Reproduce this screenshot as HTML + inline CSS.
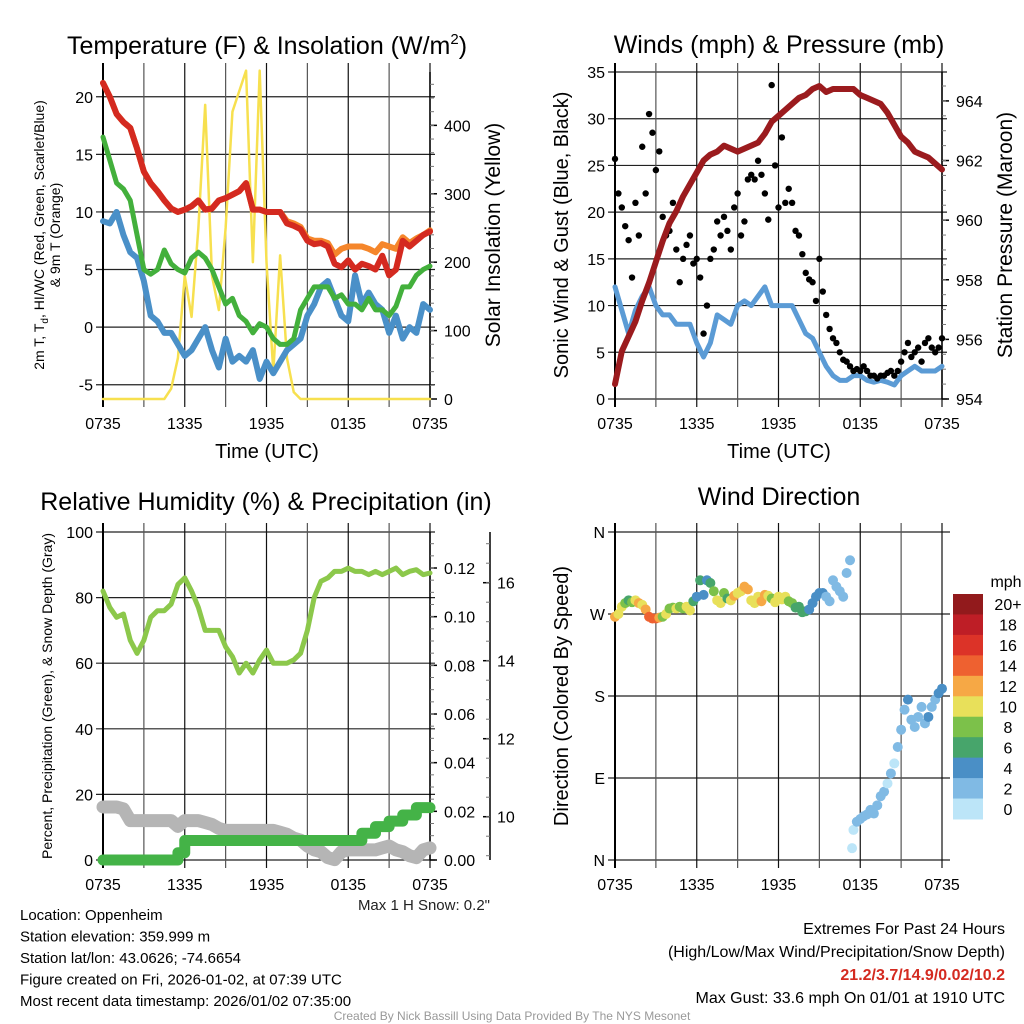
<!DOCTYPE html>
<html><head><meta charset="utf-8"><style>
body{margin:0;background:#fff;width:1024px;height:1024px;overflow:hidden}
svg{display:block;font-family:"Liberation Sans",Arial,sans-serif}
</style></head><body>
<svg id="s" width="1024" height="1024" viewBox="0 0 1024 1024" xmlns="http://www.w3.org/2000/svg"></svg>
<script>
// ---------- DATA (half-hour series, t = 0..24 h from 0735 UTC) ----------
const tempRed=[21.2,20,18.5,17.8,17.3,15.5,13.5,12.5,11.8,11,10.3,10,10.2,10.5,11,10.2,10.3,11,11.2,11.5,11.8,12.5,10.2,10.2,10,10,10,9,8.8,8.5,7.5,7.2,7.3,7,5.5,5.2,5.8,5,5.5,5.3,5,6.2,4.5,5,7.5,7,7.5,8,8.3];
const tempOrange=[21.2,20,18.5,17.8,17.3,15.5,13.5,12.5,11.8,11,10.3,10,10.2,10.5,11,10.2,10.3,11,11.2,11.5,11.8,12.5,10.2,10.2,10,10,10,9.2,9,8.7,7.7,7.5,7.5,7.3,6.3,6.8,7,7,7,6.8,6.5,7.2,7,6.8,7.8,7.3,7.7,8,8.4];
const hiwcGreen=[16.5,14.5,12.5,12,11,8,5,4.6,5,6.7,5.5,5,4.7,6,6.5,6,5,3.5,2,2.5,1,0.5,-0.5,0.3,0,-1,-1.5,-1.5,-1,1.5,2.5,3.5,3.5,3.5,2.5,2.8,2,2,1.5,2.5,1.5,1.5,1,1.8,3.5,3.5,4.5,5,5.3];
const dewBlue=[9.2,9,10,8,6.5,6,4,1,0.5,-0.5,-0.5,-1.5,-2.5,-2,-1,0,-2,-3.5,-1,-3,-2.5,-3,-2,-4.5,-3,-4,-3,-2,-1.5,-1,1,2,3.5,4,2.5,1,0.5,4.5,2,3,2,1.5,-0.5,1,-1,0,-0.5,2,1.5];
const solar=[0,0,0,0,0,0,0,0,0,0,15,60,180,120,250,430,180,130,250,420,450,480,200,480,200,40,210,60,10,0,0,0,0,0,0,0,0,0,0,0,0,0,0,0,0,0,0,0,0];
const windBlue=[12,9.5,7,9.5,11,12,10,9,9,8,8,8,6,4.5,6,9,8.5,8,10,10.5,10,11,12,10,10,10,10,8.5,7,6.5,5,3.5,2.5,2,2,2.5,2.5,2,1.8,2,1.8,1.5,2.5,3,3.5,3,3,3,3.5];
const pressure=[954.5,955.6,956.1,956.6,957.3,957.9,958.6,959.3,959.9,960.3,960.8,961.2,961.6,962.0,962.2,962.3,962.5,962.4,962.3,962.4,962.5,962.6,962.9,963.3,963.5,963.7,963.9,964.1,964.2,964.4,964.5,964.3,964.4,964.4,964.4,964.4,964.2,964.1,964.0,963.9,963.6,963.2,962.8,962.6,962.3,962.2,962.1,961.9,961.7];
// gusts every quarter hour
const gust=[25.7,22,20.5,18.5,17,13,21,17.5,27,22,30.5,28.5,24.5,26.5,19.5,17.5,18,21,16,12.5,15,16.5,17.5,14.5,15,13,7,10,15,16,19,17.5,19.5,18,16,20.5,22,17.5,19,23.5,24,23.5,25.5,24,22,19.2,33.6,25,20.5,28,21,22.5,21,18,17.5,15.5,13.5,12.8,12.5,10.5,15,11.5,9,7.5,6.5,6,5,4.2,4,3.5,3,3.2,3,3.5,3,2.5,2.5,2.2,2.5,2.5,2.8,3,2.5,3,4,5,6,4.5,5,5.5,4,6,6.5,5.5,5,5.5,6.5];
const rh=[82,77,74,75,67,63,67,74,76,76,78,84,86,82,77,70,70,70,65,62,57,60,57,61,64,60,60,60,61,63,70,80,85,86,88,88,89,88,88,87,88,87,88,89,87,88,88.5,87,87.5];
const precip=[0,0,0,0,0,0,0,0,0,0,0,0.003,0.008,0.008,0.008,0.008,0.008,0.008,0.008,0.008,0.008,0.008,0.008,0.008,0.008,0.008,0.008,0.008,0.008,0.008,0.008,0.008,0.008,0.008,0.008,0.008,0.008,0.008,0.011,0.011,0.0137,0.0137,0.016,0.016,0.0185,0.0185,0.0215,0.0215,0.0215];
const snow=[10.25,10.25,10.25,10.2,9.9,9.9,9.9,9.9,9.9,9.9,9.9,9.75,9.9,9.9,9.9,9.85,9.8,9.7,9.65,9.65,9.65,9.65,9.65,9.65,9.65,9.65,9.6,9.55,9.45,9.4,9.25,9.15,9.1,8.95,8.9,9.1,9.15,9.15,9.15,9.15,9.15,9.2,9.25,9.15,9.1,9.0,8.95,9.15,9.2];
const dirTime=[0,0.25,0.5,0.75,1,1.25,1.5,1.75,2,2.25,2.5,2.75,3,3.25,3.5,3.75,4,4.25,4.5,4.75,5,5.25,5.5,5.75,6,6.25,6.5,6.75,7,7.25,7.5,7.75,8,8.25,8.5,8.75,9,9.25,9.5,9.75,10,10.25,10.5,10.75,11,11.25,11.5,11.75,12,12.25,12.5,12.75,13,13.25,13.5,13.75,14,14.25,14.5,14.75,15,15.25,15.5,15.75,16,16.25,16.5,16.75,17,17.25,17.4,17.5,17.75,18,18.25,18.5,18.75,19,19.25,19.5,19.75,20,20.25,20.5,20.75,21,21.25,21.5,21.75,22,22.25,22.5,22.75,23,23.25,23.5,23.75,24];
const dirDeg=[267,270,278,282,285,283,285,282,280,275,267,265,265,266,267,270,276,277,276,278,276,278,274,284,289,307,291,307,304,295,285,282,293,287,285,290,293,295,300,297,285,282,289,284,291,290,287,283,289,286,289,284,282,277,278,272,273,275,282,289,293,293,289,284,307,300,295,289,315,329,13,33,42,45,48,50,55,51,60,70,75,84,95,106,124,143,165,176,154,146,157,168,150,157,168,176,183,188];
const dirSpd=[12,11,10,8,6,9,10,12,10,12,14,15,14,12,9,10,8,9,10,8,9,10,10,7,5,6,4,5,6,9,10,10,9,7,11,12,10,11,12,12,10,11,10,12,12,11,9,10,10,10,10,9,8,7,6,6,6,5,4,4,4,4,3,2,2,2,2,2,3,2,0,1,2,2,3,2,3,2,3,2,3,1,2,1,2,3,2,4,2,2,3,2,3,4,3,3,4,4];
const timeLabels=["0735","1335","1935","0135","0735"];
const cbLabels=["20+","18","16","14","12","10","8","6","4","2","0"];
const cbColors=["#921a1c","#be1e26","#dc3328","#ee6130","#f6a845","#e8e05a","#7cc14a","#47a56b","#4a8fc6","#80bae4","#bce5f8"];

// ---------- RENDER ----------
const S=document.getElementById('s');
const NS='http://www.w3.org/2000/svg';
function mk(tag,attrs,parent){const e=document.createElementNS(NS,tag);for(const k in attrs)e.setAttribute(k,attrs[k]);(parent||S).appendChild(e);return e;}
function txt(x,y,s,size,anchor,extra,parent){const e=mk('text',Object.assign({x:x,y:y,'font-size':size,'text-anchor':anchor||'middle',fill:'#000'},extra||{}),parent);e.textContent=s;return e;}
const half=[];for(let i=0;i<=48;i++)half.push(i*0.5);
const quarter=[];for(let i=0;i<=96;i++)quarter.push(i*0.25);

function panel(name,x0,x1,y0,y1){
  const g=mk('g',{});
  
  
  return {g:g,x0:x0,x1:x1,y0:y0,y1:y1,xt:t=>x0+t*(x1-x0)/24};
}
function sc(p,lo,hi){return v=>p.y1-(v-lo)*(p.y1-p.y0)/(hi-lo);}
function frame(p,yMajor,ys,yfmt,gridRight){
  const g=p.g;
  const grid=mk('g',{stroke:'#222','stroke-width':1.2},g);
  
  
  yMajor.forEach(v=>{const y=ys(v);mk('line',{x1:p.x0-7,x2:gridRight||p.x1+5,y1:y,y2:y},grid);
    txt(p.x0-10,y+6,yfmt(v),16,'end',{},g);});
  for(let h=0;h<=24;h+=3){const x=p.xt(h);mk('line',{x1:x,x2:x,y1:p.y0-9,y2:p.y1+8,stroke:h%6?'#555':'#111'},grid);}
  timeLabels.forEach((l,i)=>{const e=txt(p.xt(i*6),p.y1+30,l,16,'middle',{},g);});
  mk('line',{x1:p.x0,x2:p.x0,y1:p.y0-9,y2:p.y1+8,stroke:'#000','stroke-width':2},g);
}
function minor(p,vals,ys,x,dir){vals.forEach(v=>{const y=ys(v);mk('line',{x1:x,x2:x+dir*4,y1:y,y2:y,stroke:'#777','stroke-width':1},p.g);});}
function rightAxis(p,x,vals,ys,fmt,mvals,len){
  const g=mk('g',{},p.g);
  
  
  mk('line',{x1:x,x2:x,y1:p.y0,y2:p.y1,stroke:'#000','stroke-width':1.5},g);
  vals.forEach(v=>{const y=ys(v);mk('line',{x1:x,x2:x+(len||7),y1:y,y2:y,stroke:'#000','stroke-width':1.5},g);txt(x+14,y+6,fmt(v),16,'start',{},g);});
  mvals.forEach(v=>{const y=ys(v);mk('line',{x1:x,x2:x+4,y1:y,y2:y,stroke:'#777'},g);});
  return g;
}
function path(p,ts,vals,ys,color,w,name,step){
  let d='';ts.forEach((t,i)=>{const x=p.xt(t),y=ys(vals[i]);
    if(i===0)d+='M'+x+','+y;else if(step){d+='H'+x+'V'+y;}else d+='L'+x+','+y;});
  const e=mk('path',{d:d,fill:'none',stroke:color,'stroke-width':w,'stroke-linejoin':'round','stroke-linecap':'round'},p.g);
  
  
  return e;
}
function rng(a,b,s){const r=[];for(let v=a;v<=b+1e-9;v+=s)r.push(+v.toFixed(4));return r;}

// Panel 1
const p1=panel('temperature-panel',103,430,72,399);
const t1=sc(p1,-6.24,22.15), s1=sc(p1,0,478);
frame(p1,[-5,0,5,10,15,20],t1,v=>String(v));
minor(p1,[-2.5,2.5,7.5,12.5,17.5],t1,p1.x0-7,0);
rightAxis(p1,p1.x1,[0,100,200,300,400],s1,v=>String(v),rng(20,460,20),7);
path(p1,half,solar,s1,'#f7e04f',2.5,'solar-insolation-line');
path(p1,half,dewBlue,t1,'#4a90c8',6,'dewpoint-line');
path(p1,half,hiwcGreen,t1,'#43b03c',5,'heat-index-windchill-line');
path(p1,half,tempOrange,t1,'#f5862b',6,'temp-9m-line');
path(p1,half,tempRed,t1,'#d42a20',6,'temp-2m-line');
{const e=txt(267,54,'Temperature (F) & Insolation (W/m',25,'middle');const ts=mk('tspan',{dy:-10,'font-size':15},e);ts.textContent='2';const t2=mk('tspan',{dy:10},e);t2.textContent=')';}
txt(267,458,'Time (UTC)',20);
{const e=txt(0,0,'',14,'middle',{transform:'translate(44,235) rotate(-90)'});e.textContent='2m T, T';const d=mk('tspan',{'font-size':10,dy:4},e);d.textContent='d';const r=mk('tspan',{dy:-4},e);r.textContent=', HI/WC (Red, Green, Scarlet/Blue)';}
txt(0,0,'& 9m T (Orange)',14,'middle',{transform:'translate(60,235) rotate(-90)'});
txt(0,0,'Solar Insolation (Yellow)',21,'middle',{transform:'translate(500,235) rotate(-90)'});

// Panel 2
const p2=panel('winds-panel',615,942,72,399);
const w2=sc(p2,0,35), pr2=sc(p2,954,964.97);
frame(p2,[0,5,10,15,20,25,30,35],w2,v=>String(v));
minor(p2,[2.5,7.5,12.5,17.5,22.5,27.5,32.5],w2,p2.x0-7,0);
rightAxis(p2,p2.x1,[954,956,958,960,962,964],pr2,v=>String(v),rng(954.5,964.5,0.5),7);
path(p2,half,windBlue,w2,'#5b9bd5',5,'sonic-wind-line');
const gg=mk('g',{fill:'#000'},p2.g);


quarter.forEach((t,i)=>{mk('circle',{cx:p2.xt(t),cy:w2(gust[i]),r:3.2},gg);});
path(p2,half,pressure,pr2,'#9b1b1e',6,'station-pressure-line');
txt(779,53,'Winds (mph) & Pressure (mb)',25);
txt(779,458,'Time (UTC)',20);
txt(0,0,'Sonic Wind & Gust (Blue, Black)',20,'middle',{transform:'translate(568,235) rotate(-90)'});
txt(0,0,'Station Pressure (Maroon)',21,'middle',{transform:'translate(1012,235) rotate(-90)'});

// Panel 3
const p3=panel('humidity-panel',103,430,532,860);
const r3=sc(p3,0,100), pc3=sc(p3,0,0.1348), sn3=sc(p3,8.89,17.3);
frame(p3,[0,20,40,60,80,100],r3,v=>String(v));
minor(p3,[10,30,50,70,90],r3,p3.x0-7,0);
rightAxis(p3,p3.x1,[0,0.02,0.04,0.06,0.08,0.10,0.12],pc3,v=>v.toFixed(2),rng(0.005,0.13,0.005),7);
{const g=mk('g',{},p3.g);
 mk('line',{x1:490,x2:490,y1:532,y2:860,stroke:'#000','stroke-width':1.5},g);
 [10,12,14,16].forEach(v=>{const y=sn3(v);mk('line',{x1:483,x2:490,y1:y,y2:y,stroke:'#000','stroke-width':1.5},g);txt(497,y+6,String(v),16,'start',{},g);});
 rng(9,17,0.5).forEach(v=>{const y=sn3(v);mk('line',{x1:486,x2:490,y1:y,y2:y,stroke:'#777'},g);});}
path(p3,half,snow,sn3,'#b5b5b5',13,'snow-depth-line');
path(p3,half,precip,pc3,'#44b347',11,'precipitation-line',true);
path(p3,half,rh,r3,'#8cc84b',5,'relative-humidity-line');
txt(266,510,'Relative Humidity (%) & Precipitation (in)',25);
txt(0,0,'Percent, Precipitation (Green), & Snow Depth (Gray)',14,'middle',{transform:'translate(52,696) rotate(-90)'});
txt(490,910,'Max 1 H Snow: 0.2"',15,'end',{fill:'#222'});

// Panel 4
const p4=panel('wind-direction-panel',615,942,532,860);
const d4=sc(p4,0,360);
frame(p4,[0,90,180,270,360],d4,v=>['N','E','S','W','N'][v/90],950);
function binColor(s){let i=Math.min(10,Math.floor(s/2));return cbColors[10-i];}
const dg=mk('g',{},p4.g);


dirTime.forEach((t,i)=>{mk('circle',{cx:p4.xt(t),cy:d4(dirDeg[i]),r:5,fill:binColor(dirSpd[i])},dg);});
txt(779,505,'Wind Direction',25);
txt(0,0,'Direction (Colored By Speed)',20,'middle',{transform:'translate(568,696) rotate(-90)'});
{const g=mk('g',{});
 const h=(819-594)/11;
 cbColors.forEach((c,i)=>{mk('rect',{x:953,y:594+i*h,width:30,height:h+0.5,fill:c},g);txt(1008,594+i*h+h/2+6,cbLabels[i],16,'middle',{},g);});
 txt(1006,587,'mph',16,'middle',{},g);}

// Bottom text
const info=['Location: Oppenheim','Station elevation: 359.999 m','Station lat/lon: 43.0626; -74.6654','Figure created on Fri, 2026-01-02, at 07:39 UTC','Most recent data timestamp: 2026/01/02 07:35:00'];
info.forEach((s,i)=>{const e=txt(20,920+i*21.5,s,15,'start');});
txt(1005,934,'Extremes For Past 24 Hours',16,'end');
txt(1005,957,'(High/Low/Max Wind/Precipitation/Snow Depth)',16,'end');
txt(1005,980,'21.2/3.7/14.9/0.02/10.2',16,'end',{fill:'#d42a20','font-weight':'bold'});
txt(1005,1003,'Max Gust: 33.6 mph On 01/01 at 1910 UTC',16,'end');
txt(512,1020,'Created By Nick Bassill Using Data Provided By The NYS Mesonet',12,'middle',{fill:'#999'});
</script>
</body></html>
